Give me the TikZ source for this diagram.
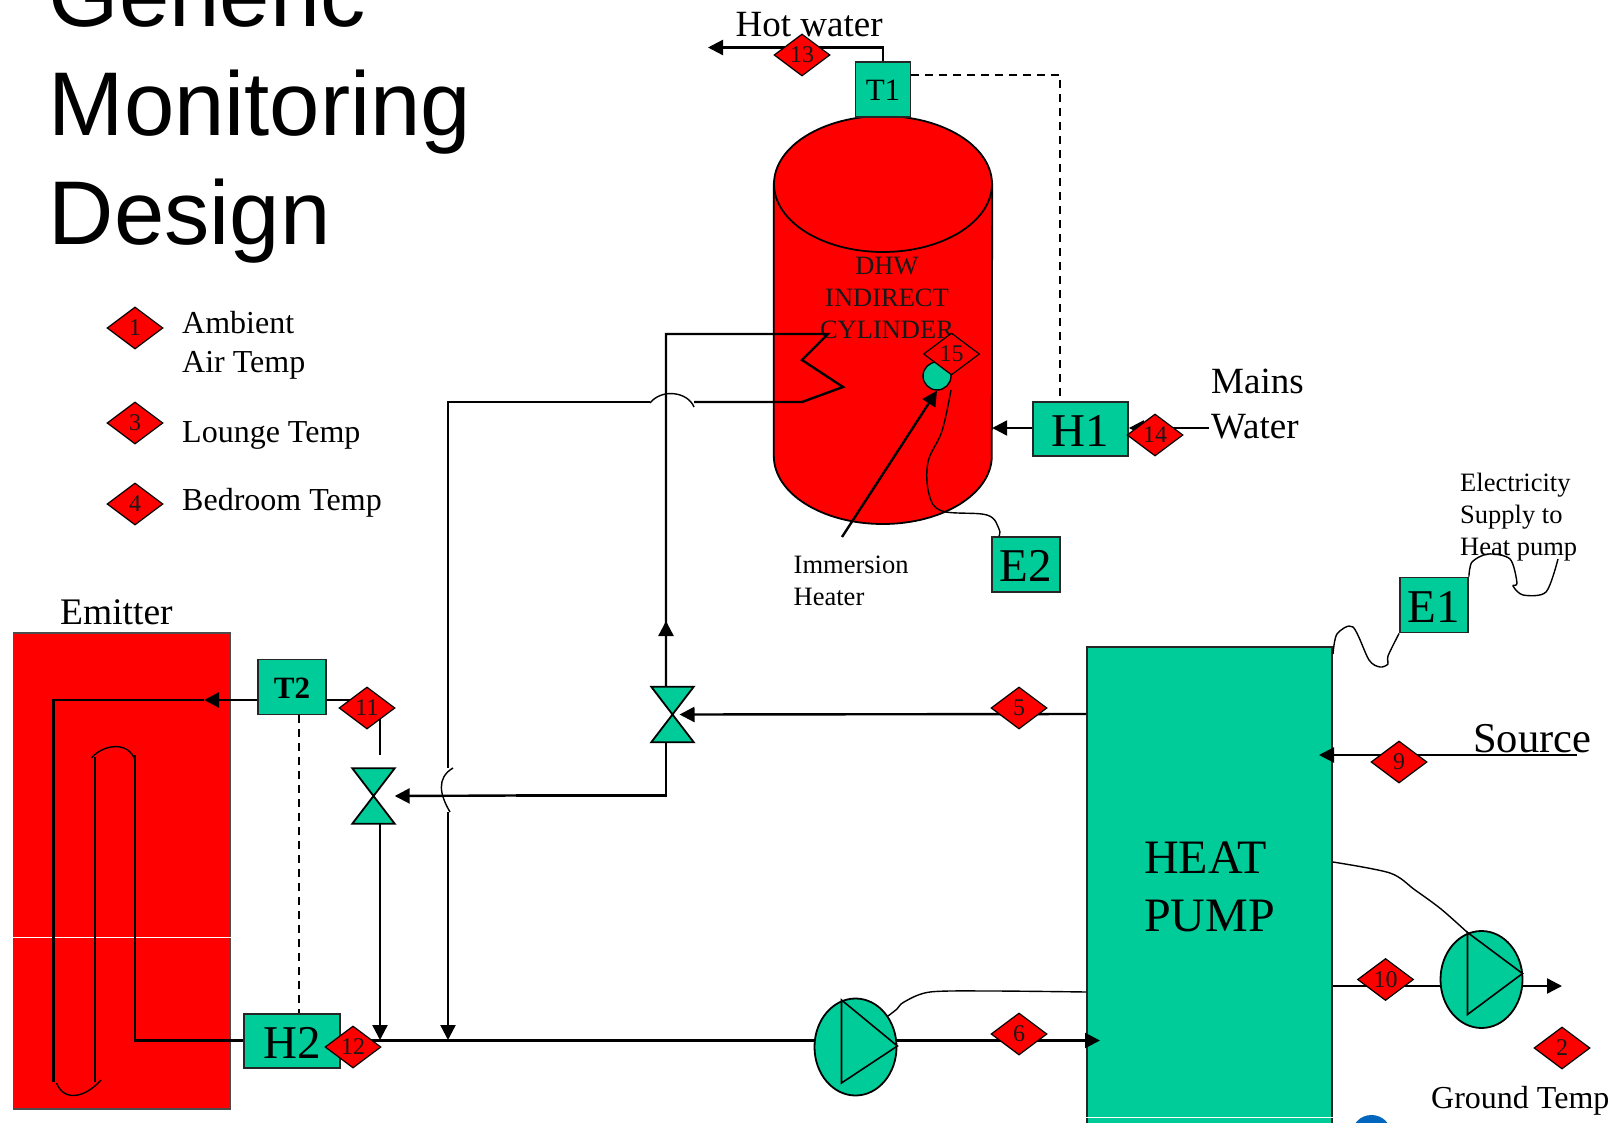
\documentclass[tikz,border=0pt]{standalone}
\usepackage{fontspec}
\setmainfont{Liberation Serif}
\newfontfamily\titlefont{Liberation Sans}
\usepackage{xcolor}
\usetikzlibrary{shapes.geometric,arrows.meta,calc}
\definecolor{plantgreen}{RGB}{0,204,153}
\definecolor{plantred}{RGB}{255,0,0}
\definecolor{logoblue}{RGB}{0,102,190}
\newcommand{\px}[2]{\fontsize{#1}{#2}\selectfont}
\tikzset{
    tag/.style={diamond, draw=black, line width=1.2pt, fill=plantred, inner sep=0, minimum width=56, minimum height=42, font=\px{24}{24}, text=black!90},
    meter/.style={rectangle, draw=black!85, line width=1.8pt, fill=plantgreen, inner sep=0, font=\px{47}{47}, text height=34pt},
    tempbox/.style={meter, minimum width=55, minimum height=55, font=\px{31}{31}, text height=22pt},
    pump/.style={ellipse, draw=black, line width=1.8pt, fill=plantgreen, inner sep=0, minimum width=82, minimum height=97},
    valve/.style={rectangle, inner sep=0, minimum width=42, minimum height=55},
    valveface/.style={draw=black, line width=1.8pt, fill=plantgreen},
    pipe/.style={line width=2.4pt},
    flow/.style={pipe, -{Triangle[length=15pt,width=15pt]}},
    wire/.style={line width=1.4pt},
    link/.style={line width=1.6pt, dashed, dash pattern=on 8pt off 6pt},
    lbl/.style={anchor=base west, align=left, inner sep=0, font=\px{32}{39}},
    small/.style={lbl, font=\px{26.5}{32}},
}
\begin{document}
\begin{tikzpicture}[x=1pt,y=-1pt]
    \clip (0,0) rectangle (1620,1123);
    \fill[white] (0,0) rectangle (1620,1123);

    % title and legend
    \node[lbl, font=\titlefont\px{90.5}{109}] (title) at (48.5,245) {Generic\\Monitoring\\Design};
    \node[lbl] (ambient) at (182,372) {Ambient\\Air Temp};
    \node[lbl] (lounge) at (182,442) {Lounge Temp};
    \node[lbl] (bedroom) at (182,510) {Bedroom Temp};

    % big blocks
    \node[rectangle, draw=black!70, line width=1.8pt, fill=plantred, minimum width=217, minimum height=476] (emitter) at (122,871) {};
    \draw[white, line width=1pt] (emitter.west |- 0,937) -- (emitter.east |- 0,937);
    \node[rectangle, draw=black!85, line width=1.8pt, fill=plantgreen, minimum width=245, minimum height=490] (hp) at (1209.5,892) {};
    \draw[white, line width=1pt] (hp.west |- 0,1117) -- (hp.east |- 0,1117);
    \node[lbl, font=\px{48}{58}] (hptext) at (1144,931) {HEAT\\PUMP};
    \node[rectangle, inner sep=0, minimum width=218, minimum height=408] (tank) at (883,320) {};
    \draw[line width=1.8pt, fill=plantred] (tank.west |- 0,184) -- (tank.west |- 0,456) arc[start angle=180, end angle=360, x radius=109pt, y radius=68pt] -- (tank.east |- 0,184) -- cycle;
    \draw[line width=1.8pt, fill=plantred] (883,184) ellipse[x radius=109pt, y radius=68pt];
    \node[align=center, inner sep=0, anchor=base, font=\px{26.5}{32}, text=black!90] (dhw) at (887,338) {DHW\\INDIRECT\\CYLINDER};

    % meters
    \node[tempbox] (t1) at (883,89.5) {T1};
    \node[tempbox, minimum width=68, font=\bfseries\px{31}{31}] (t2) at (292,687) {T2};
    \node[meter, minimum width=95, minimum height=54] (h1) at (1080.5,429) {H1};
    \node[meter, minimum width=96, minimum height=54] (h2) at (292,1041) {H2};
    \node[meter, minimum width=68, minimum height=55] (e1) at (1434,605) {E1};
    \node[meter, minimum width=68, minimum height=55] (e2) at (1026,564.5) {E2};

    % valves and pumps
    \node[valve] (vhigh) at (672.5,714.5) {};
    \node[valve] (vlow) at (373.5,796) {};
    \foreach \v in {vhigh,vlow} {
        \draw[valveface] (\v.north west) -- (\v.north east) -- (\v.south west) -- (\v.south east) -- cycle;
    }
    \node[pump] (pa) at (855.5,1047) {};
    \node[pump] (pb) at (1481.5,979.5) {};
    \draw[line width=1.6pt] ($(pa)+(-14,-47)$) -- ($(pa)+(-14,36)$) -- (pa.east |- 0,1046) -- cycle;
    \draw[line width=1.6pt] ($(pb)+(-14,-47)$) -- ($(pb)+(-14,35)$) -- ($(pb)+(41,-6)$) -- cycle;

    % pipework
    \coordinate (top) at (666,334);
    \coordinate (ret) at (448,402);
    \draw[flow] (t1.north) |- (708,47.5);
    \draw[link] (t1.east |- 0,75) -| (h1.north -| 1060,0);
    \draw[link] (t2.south -| 299,0) -- (h2.north -| 299,0);
    \draw[flow] (h1.west |- 0,428) -- (tank.east |- 0,428);
    \draw[flow] (1209,428) -- (h1.east |- 0,428);
    \draw[pipe] (vhigh.north -| 666,0) -- (top) -- (828,334) -- (802,360) -- (843,387) -- (802,402) -- (694,402);
    \draw[pipe, -{Triangle[length=15pt,width=15pt]}] (vhigh.north -| 666,0) -- (666,621);
    \draw[wire] (694,407) .. controls (688,392) and (662,388) .. (650,403);
    \draw[pipe] (650,402) -- (ret) -- (448,768);
    \draw[wire] (453,768) .. controls (436,778) and (440,795) .. (450,812);
    \draw[flow] (448,812) -- (448,1040);
    \draw[pipe] (vhigh.south -| 666,0) |- (516,795.5);
    \draw[flow] (516,795.5) -- (vlow.east);
    \draw[flow] (hp.west |- 0,714) -- ($(vhigh.center)+(7,0)$);
    \draw[pipe] (t2.east |- 0,700) -- (380,700) -- (380,755);
    \draw[flow] (vlow.south -| 380,0) -- (380,1040);
    \draw[pipe] (h2.east |- 0,1040.5) -- (pa.west |- 0,1040.5);
    \draw[flow] (pa.east |- 0,1040.5) -- (1100,1040.5);
    \draw[pipe] (hp.east |- 0,986) -- (pb.west |- 0,986);
    \draw[flow] (pb.east |- 0,986) -- (1562,986);
    \draw[flow] (1577,755) -- (1319,755);

    % emitter coil
    \draw[flow] (t2.west |- 0,700) -- (204,700);
    \draw[pipe] (204,700) -- (53.5,700) -- (53.5,1082);
    \draw[wire] (95,757) -- (95,1082);
    \draw[pipe] (h2.west |- 0,1040.5) -- (135,1040.5) -- (135,755);
    \draw[wire] (91.5,758) .. controls (102,745) and (128,740) .. (135,760);
    \draw[wire] (56.5,1083) .. controls (64,1102) and (85,1098) .. (101,1080);

    % immersion heater
    \node[circle, draw=black, line width=1.4pt, fill=plantgreen, inner sep=0, minimum size=28] (heater) at (937,376) {};
    \draw[flow] (842,537) -- (heater.south);
    \draw[wire] plot[smooth, tension=0.6] coordinates {(951,390) (942,431) (928,462) (929,494) (942,511) (987,515) (999,529) (e2.north -| 999,0)};

    % electrical supply wires
    \draw[wire] plot[smooth, tension=0.5] coordinates {(1333,654) (1337,634) (1353,627) (1369,660) (1380,667) (1388,664) (1388,656) (e1.south west)};
    \draw[wire] plot[smooth, tension=0.5] coordinates {(e1.north east) (1472,562) (1488,554) (1510,559) (1517,583) (1513,586) (1523,595) (1546,592) (1558,559)};
    \draw[wire] plot[smooth, tension=0.5] coordinates {(hp.east |- 0,862) (1390,873) (1415,890) (1441,909) (1468,933)};
    \draw[wire] plot[smooth, tension=0.5] coordinates {(888,1016) (897,1009) (904,1002) (930,992) (992,991) (hp.west |- 0,992)};

    % diamonds
    \foreach \n/\x/\y in {1/135/328, 3/135/423, 4/135/504, 5/1019/708, 6/1019/1034, 9/1399/762, 10/1385.5/979.5, 2/1562/1048, 11/367/708, 12/353/1047, 13/802/55, 14/1155/435, 15/951.5/354} {
        \node[tag] (tag\n) at (\x,\y) {\n};
    }

    % labels
    \node[lbl, font=\px{37}{45}] (hot) at (735.5,37) {Hot water};
    \node[lbl, font=\px{37}{45}] (mains) at (1211,438) {Mains\\Water};
    \node[lbl, font=\px{37.5}{37}] (emit) at (60,624) {Emitter};
    \node[lbl, font=\px{42.5}{42.5}] (source) at (1473,752) {Source};
    \node[small] (imm) at (793.5,605.5) {Immersion\\Heater};
    \node[small] (elec) at (1460,555) {Electricity\\Supply to\\Heat pump};
    \node[lbl] (ground) at (1431,1108) {Ground Temp};
    \fill[logoblue] (1371.5,1135) circle (20);
\end{tikzpicture}
\end{document}
